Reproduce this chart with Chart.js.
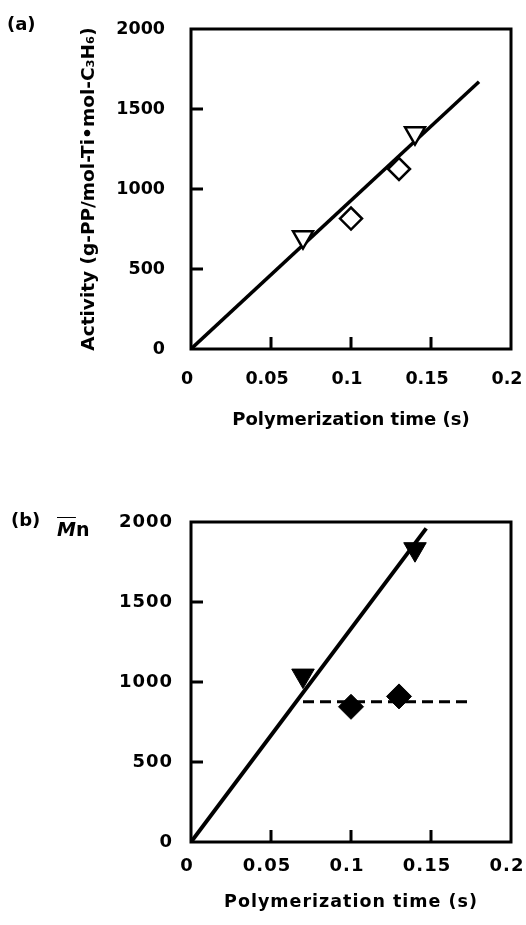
<!DOCTYPE html>
<html><head><meta charset="utf-8">
<script src="https://cdn.jsdelivr.net/npm/chart.js@4.4.1/dist/chart.umd.min.js"></script>
<style>
html,body{margin:0;padding:0;background:#fff;}
#wrap{position:relative;width:526px;height:925px;background:#fff;overflow:hidden;font-family:"DejaVu Sans",sans-serif;}
canvas{position:absolute;left:0;}
.lbl{position:absolute;font-weight:bold;color:#000;line-height:1;white-space:nowrap;}
</style></head><body>
<div id="wrap">
<canvas id="ca" width="526" height="462" style="top:0;width:526px;height:462px"></canvas>
<canvas id="cb" width="526" height="463" style="top:462px;width:526px;height:463px"></canvas>
<div class="lbl" style="left:7px;top:15px;font-size:18px">(a)</div>
<div class="lbl" style="left:11px;top:511px;font-size:18px">(b)</div>
<div class="lbl" style="left:57px;top:520px;font-size:19px"><span style="font-style:italic;text-decoration:overline">M</span>n</div>
</div>
<script>
const xTickLabels = ['0', '0.05', '0.1', '0.15', '0.2'];
const yTickLabels = ['0', '500', '1000', '1500', '2000'];
const xTitle = 'Polymerization time (s)';
const yTitleA = 'Activity (g-PP/mol-Ti\u2022mol-C\u2083H\u2086)';

// Panel (a): activity
const aTriTime = [0.07, 0.14];
const aTriActivity = [700, 1350];
const aDiaTime = [0.10, 0.13];
const aDiaActivity = [815, 1125];
const aFitTime = [0, 0.18];
const aFitActivity = [0, 1670];

// Panel (b): Mn
const bTriTime = [0.07, 0.14];
const bTriMn = [1040, 1830];
const bDiaTime = [0.10, 0.13];
const bDiaMn = [845, 910];
const bFitTime = [0, 0.147];
const bFitMn = [0, 1960];
const bFlatTime = [0.07, 0.175];
const bFlatMn = [877, 877];

const FONT = "'DejaVu Sans', sans-serif";
const pts = (xs, ys) => xs.map((x, i) => ({x: x, y: ys[i]}));

const framePlugin = {
  id: 'frame',
  afterDatasetsDraw(chart) {
    const ctx = chart.ctx, a = chart.chartArea;
    const xs = chart.scales.x, ys = chart.scales.y;
    ctx.save();
    ctx.strokeStyle = '#000';
    ctx.lineWidth = 3;
    ctx.lineCap = 'butt';
    ctx.beginPath();
    xs.ticks.forEach((t, i) => {
      if (i === 0 || i === xs.ticks.length - 1) return;
      const px = xs.getPixelForValue(t.value);
      ctx.moveTo(px, a.bottom);
      ctx.lineTo(px, a.bottom - 12);
    });
    ys.ticks.forEach((t, i) => {
      if (i === 0 || i === ys.ticks.length - 1) return;
      const py = ys.getPixelForValue(t.value);
      ctx.moveTo(a.left, py);
      ctx.lineTo(a.left + 12, py);
    });
    ctx.stroke();
    ctx.strokeRect(a.left, a.top, a.right - a.left, a.bottom - a.top);
    ctx.restore();
  }
};

function makeScales(o) {
  return {
    x: {
      type: 'linear', min: 0, max: 0.2,
      ticks: {stepSize: 0.05, color: '#000', autoSkip: false, maxRotation: 0,
        font: {family: FONT, weight: 'bold', size: o.xTickSize}, padding: o.xTickPad,
        labelOffset: -4,
        callback: (v, i) => xTickLabels[i]},
      grid: {display: false, drawTicks: false},
      border: {display: false},
      title: {display: true, text: xTitle, color: '#000',
        font: {family: FONT, weight: 'bold', size: o.xTitleSize}, padding: {top: 0, bottom: o.xTitlePad}},
      afterFit(s) { s.height = o.xHeight; s.paddingLeft = 0; s.paddingRight = 0; }
    },
    y: {
      type: 'linear', min: 0, max: 2000,
      ticks: {stepSize: 500, color: '#000',
        font: {family: FONT, weight: 'bold', size: o.yTickSize}, padding: o.yTickPad,
        callback: (v, i) => yTickLabels[i]},
      grid: {display: false, drawTicks: false},
      border: {display: false},
      title: {display: !!o.yTitle, text: o.yTitle || '', color: '#000',
        font: {family: FONT, weight: 'bold', size: 18.5}, padding: {top: o.yTitlePad || 0, bottom: 0}},
      afterFit(s) { s.width = 191; s.paddingTop = 0; s.paddingBottom = 0; }
    }
  };
}

const common = {
  responsive: false, animation: false, devicePixelRatio: 1,
  plugins: {legend: {display: false}, tooltip: {enabled: false}}
};

new Chart(document.getElementById('ca'), {
  type: 'scatter',
  data: {datasets: [
    {data: pts(aTriTime, aTriActivity), pointStyle: 'triangle', rotation: 180, pointRadius: 11.5,
     borderColor: '#000', backgroundColor: '#fff', borderWidth: 2.5, showLine: false},
    {data: pts(aDiaTime, aDiaActivity), pointStyle: 'rectRot', pointRadius: 11,
     borderColor: '#000', backgroundColor: '#fff', borderWidth: 2.5, showLine: false},
    {data: pts(aFitTime, aFitActivity), showLine: true, borderColor: '#000', borderWidth: 3.5,
     pointRadius: 0, fill: false}
  ]},
  options: Object.assign({}, common, {
    layout: {padding: {top: 29, right: 15, bottom: 0, left: 0}},
    scales: makeScales({xTickSize: 17.5, xTickPad: 19.5, xTitleSize: 18, xTitlePad: 31, xHeight: 113,
      yTickSize: 17.5, yTickPad: 26, yTitle: yTitleA, yTitlePad: 78})
  }),
  plugins: [framePlugin]
});

const spacingPlugin = {
  id: 'spacing',
  beforeLayout(chart) { chart.ctx.letterSpacing = '1px'; },
  beforeDraw(chart) { chart.ctx.letterSpacing = '1px'; }
};

new Chart(document.getElementById('cb'), {
  type: 'scatter',
  data: {datasets: [
    {data: pts(bTriTime, bTriMn), pointStyle: 'triangle', rotation: 180, pointRadius: 13,
     borderColor: '#000', backgroundColor: '#000', borderWidth: 1, showLine: false},
    {data: pts(bDiaTime, bDiaMn), pointStyle: 'rectRot', pointRadius: 12.5,
     borderColor: '#000', backgroundColor: '#000', borderWidth: 1, showLine: false},
    {data: pts(bFitTime, bFitMn), showLine: true, borderColor: '#000', borderWidth: 4,
     pointRadius: 0, fill: false},
    {data: pts(bFlatTime, bFlatMn), showLine: true, borderColor: '#000', borderWidth: 3,
     borderDash: [11, 6], pointRadius: 0, fill: false}
  ]},
  options: Object.assign({}, common, {
    layout: {padding: {top: 60, right: 15, bottom: 0, left: 0}},
    scales: makeScales({xTickSize: 18, xTickPad: 14, xTitleSize: 17.5, xTitlePad: 12.5, xHeight: 83,
      yTickSize: 18, yTickPad: 18})
  }),
  plugins: [spacingPlugin, framePlugin]
});
</script>
</body></html>
